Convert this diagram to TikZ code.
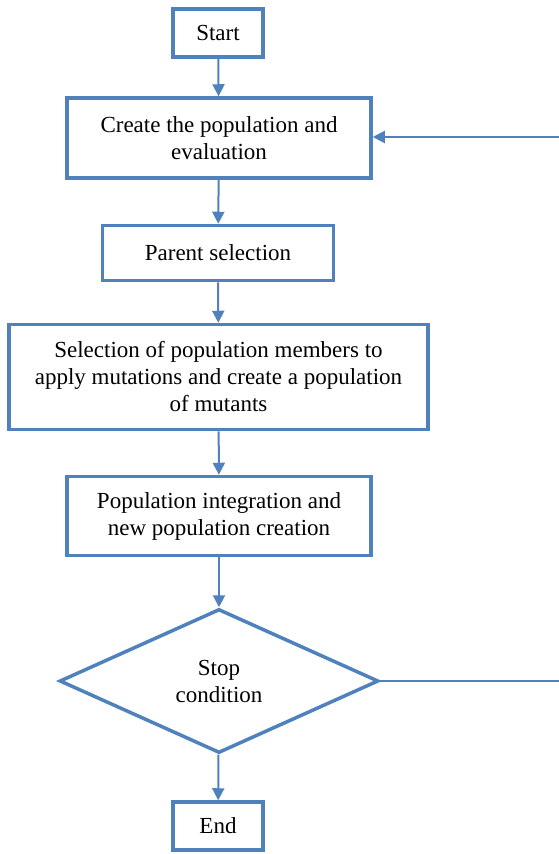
\documentclass[tikz,border=0pt]{standalone}
\usepackage{fontspec}
\setmainfont{Liberation Serif}
\usetikzlibrary{shapes.geometric,arrows.meta}

\definecolor{Flow}{HTML}{4F81BD}
\tikzstyle{flow-box}=[draw=Flow, line width=3.5pt, rectangle, align=center, inner sep=0pt, font=\fontsize{23}{27}\selectfont]
\tikzstyle{flow-decision}=[draw=Flow, line width=3.5pt, diamond, align=center, inner sep=0pt, font=\fontsize{23}{27}\selectfont]
\tikzstyle{flow-line}=[draw=Flow, line width=2pt, -{Triangle[length=12pt, width=12pt]}]

\begin{document}
\begin{tikzpicture}[x=1pt, y=-1pt]
      \useasboundingbox (0,0) rectangle (559,854);
      \node (box-start) at (218,33) [flow-box, minimum width=90pt, minimum height=48pt] {Start};
      \node (box-create) at (219,138) [flow-box, minimum width=304pt, minimum height=80pt] {Create the population and\\evaluation};
      \node (box-parent) at (218,253) [flow-box, minimum width=231pt, minimum height=55pt] {Parent selection};
      \node (box-mutate) at (218.5,377) [flow-box, minimum width=419pt, minimum height=105pt] {Selection of population members to\\apply mutations and create a population\\of mutants};
      \node (box-merge) at (219,516) [flow-box, minimum width=304pt, minimum height=79pt] {Population integration and\\new population creation};
      \node (box-stop) at (219,681) [flow-decision, minimum width=319pt, minimum height=144pt] {Stop\\condition};
      \node (box-end) at (218,826) [flow-box, minimum width=90pt, minimum height=48pt] {End};

      \coordinate (edge-top) at (559,137);
      \coordinate (edge-bottom) at (559,681);

      \draw[flow-line] (box-start) -- (box-create);
      \draw[flow-line] (box-create) -- (box-parent);
      \draw[flow-line] (box-parent) -- (box-mutate);
      \draw[flow-line] (box-mutate) -- (box-merge);
      \draw[flow-line] (box-merge) -- (box-stop);
      \draw[flow-line] (box-stop) -- (box-end);
      \draw[flow-line] (edge-top) -- (box-create.east |- edge-top);
      \draw[draw=Flow, line width=2pt] (box-stop.east) -- (edge-bottom);
    \end{tikzpicture}
\end{document}
